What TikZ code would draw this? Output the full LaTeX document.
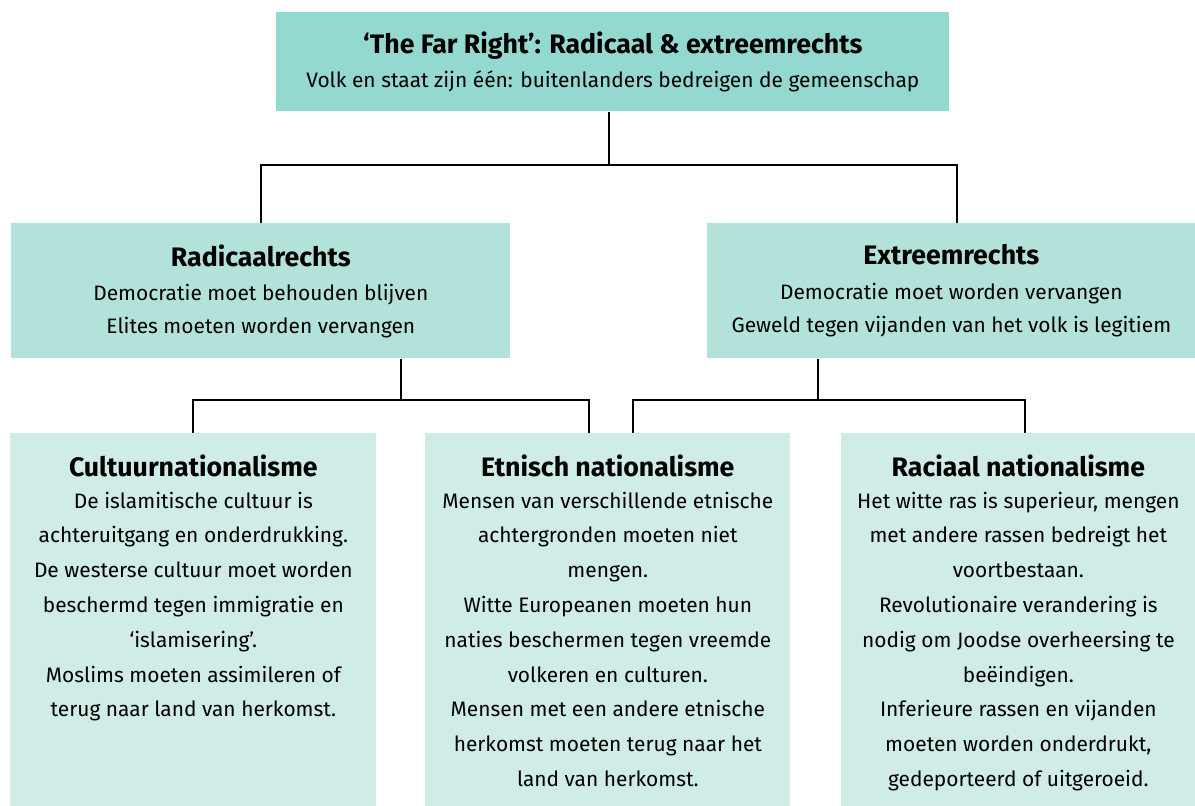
\documentclass[tikz,border=0pt]{standalone}
\usepackage{fontspec}
\setmainfont{Fira Sans}
\definecolor{tealtop}{HTML}{94D9CF}
\definecolor{tealmid}{HTML}{B3E2DA}
\definecolor{teallow}{HTML}{CFECE7}
\newcommand{\headfont}{\fontsize{15.2}{18}\bfseries}
\begin{document}
\begin{tikzpicture}[
    panel/.style={inner sep=0pt,anchor=north west},
    panetext/.style={anchor=north,inner sep=0pt,align=center,yshift=-0.42cm,
      font=\fontsize{11.9}{19.8}\selectfont},
    branch/.style={line width=1.2pt,black}
  ]
  \useasboundingbox (0,0) rectangle (23.9,-16.12);
  %% top
  \node[panel,fill=tealtop,minimum width=13.46cm,minimum height=1.98cm] (farright) at (5.52,-0.24) {};
  \node[panetext,yshift=0.04cm] (farrighttxt) at (farright.north)
    {{\headfont `The Far Right': Radicaal \& extreemrechts}\\
     Volk en staat zijn één: buitenlanders bedreigen de gemeenschap};
  %% middle row
  \node[panel,fill=tealmid,minimum width=9.98cm,minimum height=2.7cm] (radicaal) at (0.22,-4.46) {};
  \node[panetext,font=\fontsize{11.9}{18.7}\selectfont] (radicaaltxt) at (radicaal.north)
    {{\headfont Radicaalrechts}\\[1pt]
     Democratie moet behouden blijven\\
     Elites moeten worden vervangen};
  \node[panel,fill=tealmid,minimum width=9.76cm,minimum height=2.7cm] (extreem) at (14.14,-4.46) {};
  \node[panetext,font=\fontsize{11.9}{18.7}\selectfont] (extreemtxt) at (extreem.north)
    {{\headfont Extreemrechts}\\[1pt]
     Democratie moet worden vervangen\\
     Geweld tegen vijanden van het volk is legitiem};
  %% bottom row
  \node[panel,fill=teallow,minimum width=7.32cm,minimum height=7.46cm] (cultuur) at (0.2,-8.66) {};
  \node[panetext] (cultuurtxt) at (cultuur.north)
    {{\headfont Cultuurnationalisme}\\[-1.5pt]
     De islamitische cultuur is\\
     achteruitgang en onderdrukking.\\
     De westerse cultuur moet worden\\
     beschermd tegen immigratie en\\
     `islamisering'.\\
     Moslims moeten assimileren of\\
     terug naar land van herkomst.};
  \node[panel,fill=teallow,minimum width=7.3cm,minimum height=7.46cm] (etnisch) at (8.5,-8.66) {};
  \node[panetext] (etnischtxt) at (etnisch.north)
    {{\headfont Etnisch nationalisme}\\[-1.5pt]
     Mensen van verschillende etnische\\
     achtergronden moeten niet\\
     mengen.\\
     Witte Europeanen moeten hun\\
     naties beschermen tegen vreemde\\
     volkeren en culturen.\\
     Mensen met een andere etnische\\
     herkomst moeten terug naar het\\
     land van herkomst.};
  \node[panel,fill=teallow,minimum width=7.08cm,minimum height=7.46cm] (raciaal) at (16.82,-8.66) {};
  \node[panetext] (raciaaltxt) at (raciaal.north)
    {{\headfont Raciaal nationalisme}\\[-1.5pt]
     Het witte ras is superieur, mengen\\
     met andere rassen bedreigt het\\
     voortbestaan.\\
     Revolutionaire verandering is\\
     nodig om Joodse overheersing te\\
     beëindigen.\\
     Inferieure rassen en vijanden\\
     moeten worden onderdrukt,\\
     gedeporteerd of uitgeroeid.};
  %% connectors
  \coordinate (jtop) at (12.18,-3.3);
  \coordinate (jrad) at (8.02,-8.0);
  \coordinate (jext) at (16.36,-8.0);
  \draw[branch] (farright.south -| jtop) -- (jtop);
  \draw[branch] (radicaal.north) |- (jtop) -| ([xshift=0.12cm]extreem.north);
  \draw[branch] (radicaal.south -| jrad) -- (jrad);
  \draw[branch] (cultuur.north) |- (jrad) -| ([xshift=-0.38cm]etnisch.north);
  \draw[branch] (extreem.south -| jext) -- (jext);
  \draw[branch] ([xshift=0.5cm]etnisch.north) |- (jext) -| ([xshift=0.14cm]raciaal.north);
\end{tikzpicture}
\end{document}
